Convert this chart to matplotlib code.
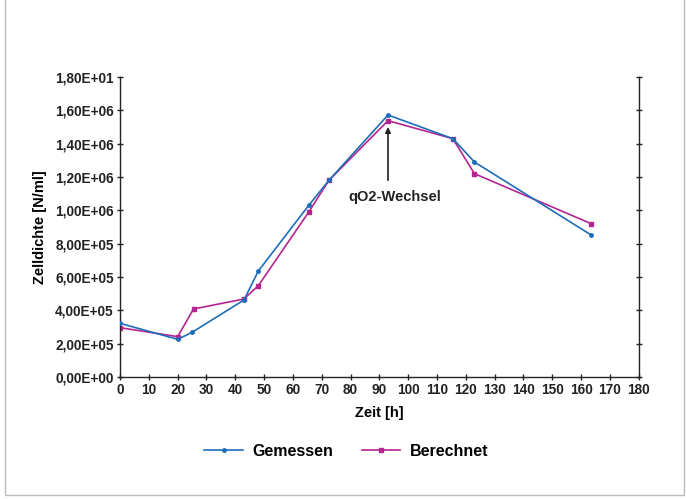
import matplotlib
matplotlib.use("Agg")
import matplotlib.pyplot as plt
from matplotlib.patches import Rectangle

plt.rcParams['font.family'] = ['Liberation Sans', 'DejaVu Sans']

# Data
zeit_gem = [0, 20, 25, 43, 48, 65.5, 72.5, 93, 115.5, 123, 163.5]
gemessen = [3.22e5, 2.26e5, 2.68e5, 4.62e5, 6.36e5, 1.03e6, 1.18e6, 1.572e6, 1.43e6, 1.29e6, 8.52e5]
zeit_ber = [0, 20, 25.5, 43, 48, 65.5, 72.5, 93, 115.5, 123, 163.5]
berechnet = [2.96e5, 2.42e5, 4.08e5, 4.68e5, 5.48e5, 9.9e5, 1.18e6, 1.538e6, 1.43e6, 1.22e6, 9.2e5]

x_ticks = list(range(0, 181, 10))
y_ticks = [0, 2e5, 4e5, 6e5, 8e5, 1.0e6, 1.2e6, 1.4e6, 1.6e6, 1.8e6]
y_labels = ["0,00E+00", "2,00E+05", "4,00E+05", "6,00E+05", "8,00E+05",
            "1,00E+06", "1,20E+06", "1,40E+06", "1,60E+06", "1,80E+01"]

blue = "#1f6db8"
magenta = "#b52590"
dark = "#222222"

fig = plt.figure(figsize=(6.86, 4.99), dpi=100)
ax = fig.add_axes([0.175, 0.2445, 0.756, 0.6012])

ax.plot(zeit_gem, gemessen, color=blue, lw=1.2, marker='o', ms=2.5, label="Gemessen", zorder=3)
ax.plot(zeit_ber, berechnet, color=magenta, lw=1.2, marker='s', ms=3.5, label="Berechnet", zorder=2)

ax.set_xlim(0, 180)
ax.set_ylim(0, 1.8e6)
ax.set_xticks(x_ticks)
ax.set_xticklabels([str(v) for v in x_ticks], fontweight='bold', fontsize=9.8)
ax.set_yticks(y_ticks)
ax.set_yticklabels(y_labels, fontweight='bold', fontsize=9.8)

ax.spines['top'].set_visible(False)
for s in ['left', 'bottom', 'right']:
    ax.spines[s].set_color(dark)
    ax.spines[s].set_linewidth(1.0)
ax.tick_params(axis='y', direction='inout', length=5, width=1, right=True, pad=2, colors=dark)
ax.tick_params(axis='x', direction='inout', length=5, width=1, pad=2, colors=dark)

ax.set_xlabel("Zeit [h]", fontweight='bold', fontsize=10.5, labelpad=6)
ax.set_ylabel("Zelldichte [N/ml]", fontweight='bold', fontsize=10.5, labelpad=6)

ax.annotate("", xy=(93, 1.5e6), xytext=(93, 1.18e6),
            arrowprops=dict(arrowstyle='-|>', color=dark, lw=1.2,
                            mutation_scale=8, shrinkA=0, shrinkB=0))
ax.text(95.5, 1.08e6, "qO2-Wechsel", ha='center', va='center', fontweight='bold',
        fontsize=10.5, color=dark)

fig.legend(loc='center', bbox_to_anchor=(0.505, 0.096), ncol=2, frameon=False,
           prop={'weight': 'bold', 'size': 11.5}, handlelength=2.4, columnspacing=1.8,
           handletextpad=0.6)

fig.patches.append(Rectangle((0.007, 0.008), 0.99, 1.1, transform=fig.transFigure,
                             fill=False, edgecolor='#bbbbbb', lw=1.0))

fig.savefig("out.png", dpi=100)
